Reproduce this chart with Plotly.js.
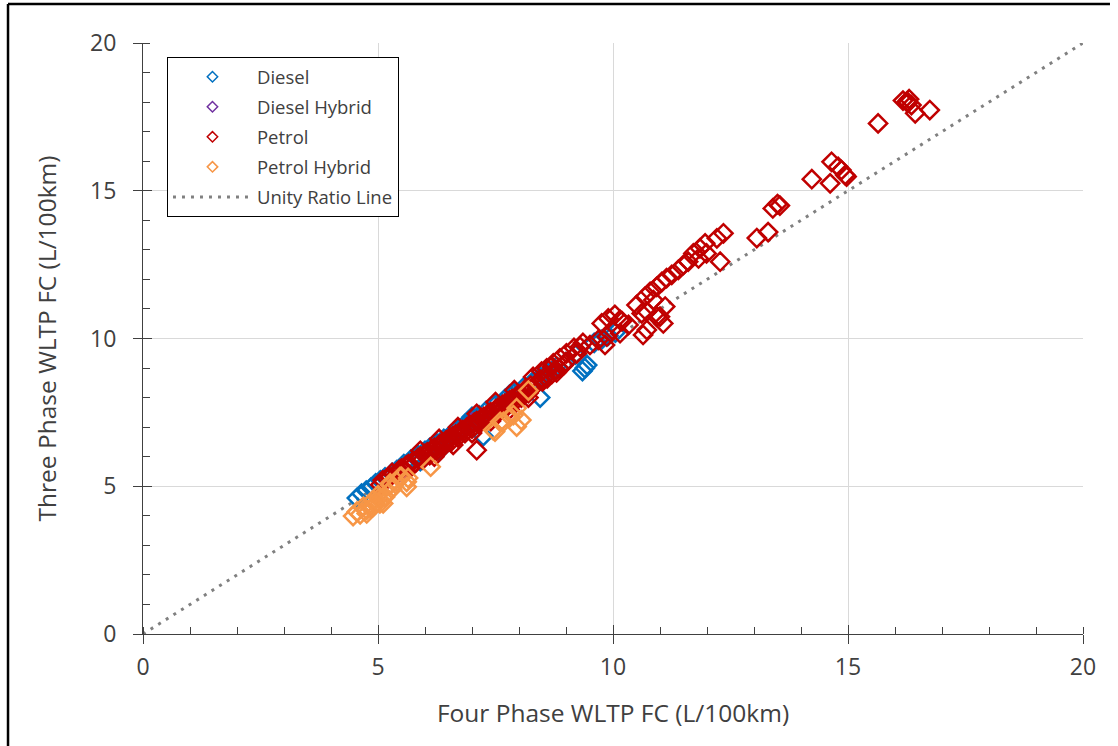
<!DOCTYPE html>
<html><head><meta charset="utf-8">
<script src="https://cdn.plot.ly/plotly-3.0.1.min.js"></script>
<style>html,body{margin:0;padding:0;background:#fff}#chart{width:1118px;height:746px}</style>
</head><body><div id="chart"></div>
<script>
// Diesel
const dieselX = [4.55,4.65,4.75,4.85,4.95,5.05,5.15,5.3,5.4,5.55,5.7,5.85,6.0,6.1,6.25,6.4,6.55,6.7,6.85,7.0,7.0,7.15,7.3,7.5,7.8,7.7,7.9,8.1,8.3,8.45,8.45,8.6,8.8,9.0,9.2,9.35,9.4,9.45,9.6,9.75,9.9,10.05,7.24,6.3,5.9];
const dieselY = [4.6,4.75,4.85,4.95,5.1,5.2,5.3,5.45,5.55,5.75,5.9,6.05,6.2,6.3,6.45,6.6,6.75,6.95,7.1,7.35,7.25,7.4,7.55,7.75,8.1,7.95,8.15,8.35,8.55,8.7,8.0,8.85,9.05,9.2,9.45,8.9,9.0,9.1,9.85,9.95,10.1,10.2,6.7,6.2,5.85];
// Diesel Hybrid
const dieselHybX = [6.5,7.0];
const dieselHybY = [6.6,7.15];
// Petrol
const petrolX = [5.05,5.1,5.2,5.25,5.3,5.4,5.45,5.5,5.55,5.6,5.65,5.7,5.75,5.8,5.85,5.9,5.95,6.0,6.05,6.1,6.15,6.2,6.25,6.3,6.35,6.4,6.45,6.5,6.55,6.6,6.65,6.7,6.75,6.8,6.85,6.9,6.95,7.0,7.05,7.1,7.15,7.2,7.25,7.3,7.35,7.4,7.45,7.5,7.55,7.6,7.65,7.7,7.75,7.8,7.85,7.9,7.95,8.0,8.05,8.1,8.15,8.2,8.25,8.3,8.4,8.45,8.5,8.55,8.6,8.7,8.75,8.8,8.85,8.95,9.0,
 6.2,6.6,7.0,7.4,7.8,8.2,5.9,6.3,6.7,7.1,7.5,7.9,8.3,8.7,7.1,
 8.48,8.59,8.73,8.87,9.01,9.17,9.23,9.3,9.36,9.51,9.69,9.83,9.87,9.98,10.15,9.76,9.9,10.04,10.15,10.19,10.33,10.64,10.5,10.72,10.93,11.07,
 10.61,10.68,10.79,10.86,10.93,11.0,11.04,11.11,11.14,11.25,11.39,11.5,11.6,11.71,11.82,11.85,11.96,11.99,12.21,12.28,12.35,10.72,
 13.06,13.3,13.4,13.5,13.55,
 14.23,14.62,14.65,14.79,14.86,14.94,14.97,15.64,16.17,16.25,16.28,16.35,16.43,16.74,16.3];
const petrolY = [5.05,5.2,5.25,5.3,5.45,5.4,5.55,5.6,5.5,5.7,5.75,5.65,5.85,5.8,5.95,6.0,5.9,6.1,6.15,6.05,6.25,6.3,6.2,6.4,6.45,6.35,6.55,6.6,6.5,6.7,6.75,6.65,6.85,6.9,6.8,7.0,7.05,6.95,7.15,7.2,7.1,7.3,7.35,7.25,7.45,7.5,7.4,7.6,7.65,7.55,7.75,7.8,7.7,7.9,7.95,7.85,8.05,8.1,8.0,8.2,8.3,8.15,8.4,8.35,8.5,8.6,8.55,8.7,8.65,8.8,8.9,8.85,9.0,9.1,9.2,
 6.0,6.4,6.8,7.2,7.6,8.0,6.2,6.6,7.0,7.45,7.85,8.25,8.7,9.05,6.22,
 8.88,8.99,9.16,9.33,9.5,9.68,9.5,9.72,9.85,9.78,9.95,9.78,10.06,10.29,10.18,10.51,10.68,10.8,10.63,10.59,10.46,10.12,11.13,10.91,10.74,10.51,
 10.85,11.41,11.58,11.3,11.75,10.74,11.92,11.08,12.04,12.15,12.32,12.49,12.6,12.88,12.71,13.05,13.22,12.88,13.39,12.6,13.56,10.29,
 13.4,13.6,14.4,14.55,14.5,
 15.39,15.25,15.98,15.81,15.7,15.53,15.48,17.28,18.05,18.01,17.98,17.9,17.62,17.73,18.1];
// Petrol Hybrid
const petrolHybX = [4.47,4.55,4.62,4.69,4.76,4.76,4.83,4.85,4.9,4.9,4.95,5.0,5.01,5.04,5.11,5.15,5.19,5.26,5.26,5.3,5.4,5.47,5.5,5.61,5.61,5.64,6.12,7.45,7.49,7.6,7.67,7.81,7.88,7.95,7.95,8.05,8.2];
const petrolHybY = [3.99,4.14,4.05,4.31,4.08,4.2,4.42,4.25,4.31,4.53,4.4,4.7,4.59,4.42,4.42,4.64,4.76,5.04,5.1,4.9,5.15,5.32,5.32,5.15,4.98,5.28,5.66,6.9,6.85,7.18,7.18,7.35,7.41,7.64,7.02,7.24,8.24];
// Unity ratio line
const unityX = [0,20];
const unityY = [0,20];

const tickVals = [0,5,10,15,20];
const tickText = ['0','5','10','15','20'];

const C = {diesel:'#0070C0', dh:'#7030A0', petrol:'#C00000', ph:'#F79646', unity:'#808080'};
function pts(x,y,color){
  return {x:x,y:y,type:'scatter',mode:'markers',showlegend:false,hoverinfo:'x+y',
    marker:{symbol:'diamond-open',size:14,color:color,line:{width:2.5,color:color}}};
}
function leg(name,color,g){
  return {x:[null],y:[null],type:'scatter',mode:'markers',name:name,legendgroup:g,
    marker:{symbol:'diamond-open',size:8,color:color,line:{width:1.5,color:color}}};
}
const data = [
  {x:unityX,y:unityY,type:'scatter',mode:'lines',showlegend:false,hoverinfo:'skip',line:{color:C.unity,width:3,dash:'3px,6px'}},
  pts(dieselX,dieselY,C.diesel),
  pts(dieselHybX,dieselHybY,C.dh),
  pts(petrolX,petrolY,C.petrol),
  pts(petrolHybX,petrolHybY,C.ph),
  leg('Diesel',C.diesel,'a'),
  leg('Diesel Hybrid',C.dh,'b'),
  leg('Petrol',C.petrol,'c'),
  leg('Petrol Hybrid',C.ph,'d'),
  {x:[null],y:[null],type:'scatter',mode:'lines',name:'Unity Ratio Line',legendgroup:'e',line:{color:C.unity,width:3,dash:'3px,6px'}}
];
const font = {family:'Open Sans, Noto Sans, sans-serif', color:'#404040'};
const axisBase = {range:[0,20],tickvals:tickVals,ticktext:tickText,showgrid:true,gridcolor:'#d9d9d9',gridwidth:1,
  zeroline:false,showline:true,linecolor:'#404040',linewidth:1,ticks:'outside',ticklen:9,tickcolor:'#404040',
  tickfont:{size:23,color:'#404040'},
  minor:{dtick:1,tick0:0,ticks:'inside',ticklen:7,tickcolor:'#404040',showgrid:false}};
const layout = {
  width:1118,height:746,margin:{l:143,r:35,t:43,b:112},
  paper_bgcolor:'#fff',plot_bgcolor:'#fff',font:font,
  showlegend:true,
  legend:{x:0.0255,y:0.976,xanchor:'left',yanchor:'top',bordercolor:'#000',borderwidth:1,bgcolor:'#fff',
    font:{size:18.5,color:'#404040'},tracegroupgap:3,itemwidth:79,traceorder:'grouped'},
  xaxis:Object.assign({},axisBase,{ticklabelstandoff:3,title:{text:'Four Phase WLTP FC (L/100km)',font:{size:24.5,color:'#404040'},standoff:24}}),
  yaxis:Object.assign({},axisBase,{ticklabelstandoff:12,title:{text:'Three Phase WLTP FC (L/100km)',font:{size:24.5,color:'#404040'},standoff:26}}),
  xaxis2:{overlaying:'x',anchor:'y',side:'bottom',range:[0,20],tickvals:tickVals,ticks:'inside',ticklen:9,tickcolor:'#404040',showticklabels:false,showgrid:false,zeroline:false,showline:false},
  yaxis2:{overlaying:'y',anchor:'x',side:'left',range:[0,20],tickvals:tickVals,ticks:'inside',ticklen:9,tickcolor:'#404040',showticklabels:false,showgrid:false,zeroline:false,showline:false},
  shapes:[
    {type:'line',xref:'paper',yref:'paper',x0:-0.1436,x1:-0.1436,y0:-0.2,y1:1.066,line:{color:'#000',width:2.5}},
    {type:'line',xref:'paper',yref:'paper',x0:-0.1436,x1:1.0287,y0:1.066,y1:1.066,line:{color:'#000',width:2.5}}
  ]
};
data.push({x:[null],y:[null],xaxis:'x2',yaxis:'y2',showlegend:false,type:'scatter',mode:'markers'});
Plotly.newPlot('chart',data,layout,{displayModeBar:false,staticPlot:true});
</script></body></html>
